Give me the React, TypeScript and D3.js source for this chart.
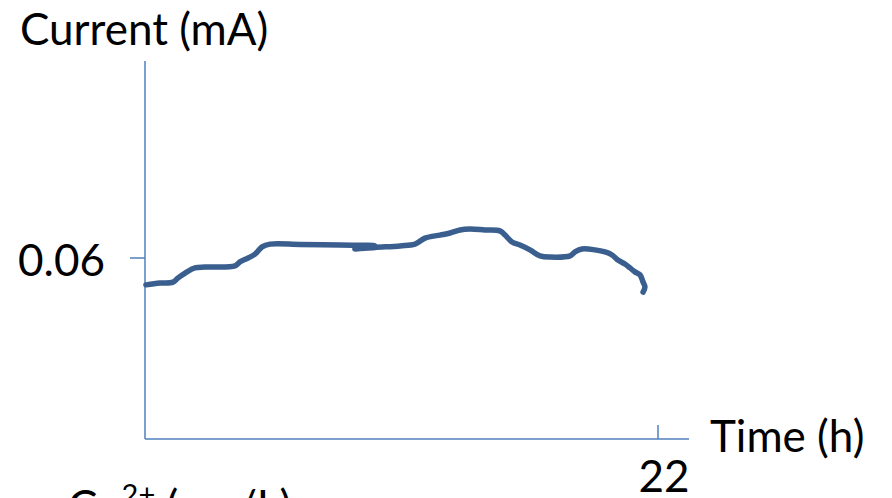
import React from 'react';
import * as d3 from 'd3';

// time (h)
const times = [0.04, 0.64, 1.2, 1.42, 1.72, 2.14, 2.57, 3.86, 4.07, 4.42, 4.72, 5.02, 5.36, 6.65, 8.36, 9.86, 9.0, 9.86, 10.94, 11.58, 12.01, 12.65, 13.08, 13.51, 13.94, 14.58, 15.22, 15.44, 15.74, 16.08, 16.51, 16.94, 17.37, 18.23, 18.44, 18.74, 19.3, 19.73, 20.03, 20.28, 20.58, 20.8, 21.01, 21.23, 21.36, 21.44, 21.36];
// current (mA)
const currents = [0.0511, 0.0517, 0.052, 0.0534, 0.055, 0.0567, 0.057, 0.0574, 0.0587, 0.06, 0.0613, 0.0637, 0.0646, 0.0645, 0.0643, 0.064, 0.063, 0.0635, 0.064, 0.0646, 0.0666, 0.0676, 0.0683, 0.0693, 0.0696, 0.0693, 0.069, 0.0676, 0.0653, 0.0643, 0.0627, 0.0607, 0.0603, 0.0607, 0.062, 0.063, 0.0627, 0.062, 0.061, 0.0593, 0.058, 0.0567, 0.0554, 0.0544, 0.052, 0.0504, 0.0487];
const xTicks = [22];
const yTicks = [0.06];

const W = 892;
const H = 498;
const x0 = 145;
const yBase = 439;

export default function App() {
  const x = d3.scaleLinear().domain([0, 22]).range([x0, 658]);
  const y = d3.scaleLinear().domain([0, 0.06]).range([yBase, 258]);
  const pts = times.map((t, i) => [t, currents[i]] as [number, number]);
  const line = d3.line<[number, number]>()
    .x(d => x(d[0]))
    .y(d => y(d[1]))
    .curve(d3.curveCatmullRom);
  const axisColor = '#4f81bd';
  const font = 'Lato, "Open Sans", sans-serif';

  return (
    <svg width={W} height={H} style={{ position: 'absolute', left: 0, top: 0 }}>
      <rect width={W} height={H} fill="#fff" />
      <text x={20} y={45} fontFamily={font} fontSize={44}>Current (mA)</text>
      <line x1={x0} x2={x0} y1={61} y2={yBase} stroke={axisColor} strokeWidth={1.5} />
      <line x1={x0} x2={689} y1={yBase} y2={yBase} stroke={axisColor} strokeWidth={1.5} />
      {yTicks.map(v => (
        <g key={v}>
          <line x1={130} x2={x0} y1={y(v)} y2={y(v)} stroke={axisColor} strokeWidth={1.5} />
          <text x={105} y={y(v) + 18} textAnchor="end" fontFamily={font} fontSize={44}>{v.toFixed(2)}</text>
        </g>
      ))}
      {xTicks.map(v => (
        <g key={v}>
          <line x1={x(v)} x2={x(v)} y1={425} y2={yBase} stroke={axisColor} strokeWidth={1.5} />
          <text x={x(v) + 6} y={492} textAnchor="middle" fontFamily={font} fontSize={44}>{v}</text>
        </g>
      ))}
      <text x={710} y={452} fontFamily={font} fontSize={44}>Time (h)</text>
      <text x={68} y={522} fontFamily={font} fontSize={44}>Cu<tspan dy={-17} fontSize={29}>2+</tspan><tspan dy={17}> (mg/L)</tspan></text>
      <path d={line(pts) ?? ''} fill="none" stroke="#3a5f8f" strokeWidth={5.5} strokeLinejoin="round" strokeLinecap="round" />
    </svg>
  );
}
